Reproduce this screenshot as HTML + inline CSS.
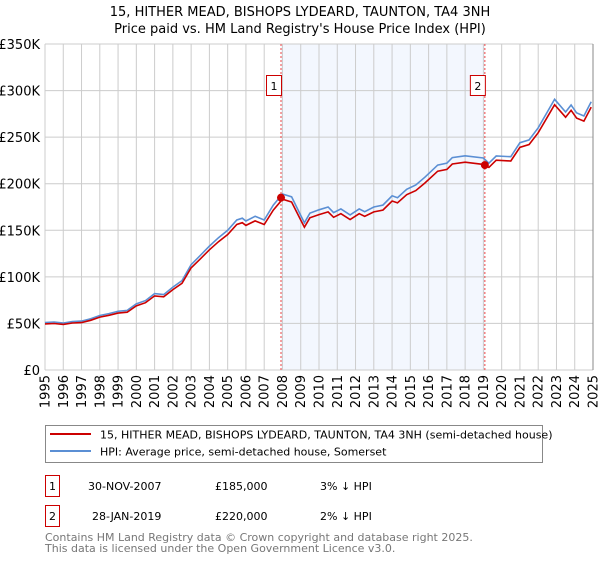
<!DOCTYPE html>
<html><head><meta charset="utf-8"><style>
body{margin:0;background:#fff;font-family:"DejaVu Sans","Liberation Sans",sans-serif;}
svg text{font-family:"DejaVu Sans","Liberation Sans",sans-serif;}
</style></head><body>
<svg id="c" width="600" height="560" xmlns="http://www.w3.org/2000/svg">
<text x="300" y="16" text-anchor="middle" font-size="13">15, HITHER MEAD, BISHOPS LYDEARD, TAUNTON, TA4 3NH</text>
<text x="300" y="33" text-anchor="middle" font-size="13">Price paid vs. HM Land Registry's House Price Index (HPI)</text>
<g id="plot"></g>
<g>
<rect x="45.5" y="425.5" width="497" height="37" fill="#fff" stroke="#888"/>
<line x1="50" y1="434" x2="91" y2="434" stroke="#cc0000" stroke-width="2"/>
<text x="100" y="438.5" font-size="11">15, HITHER MEAD, BISHOPS LYDEARD, TAUNTON, TA4 3NH (semi-detached house)</text>
<line x1="50" y1="451" x2="91" y2="451" stroke="#5b8fd4" stroke-width="2"/>
<text x="100" y="455.5" font-size="11">HPI: Average price, semi-detached house, Somerset</text>
</g>
<g font-size="11">
<rect x="45.5" y="475.5" width="14" height="21" fill="none" stroke="#cc0000"/>
<text x="52.5" y="490" text-anchor="middle">1</text>
<text x="88" y="490">30-NOV-2007</text><text x="215" y="490">£185,000</text><text x="320" y="490">3% ↓ HPI</text>
<rect x="45.5" y="505.5" width="14" height="21" fill="none" stroke="#cc0000"/>
<text x="52.5" y="520" text-anchor="middle">2</text>
<text x="92" y="520">28-JAN-2019</text><text x="215" y="520">£220,000</text><text x="320" y="520">2% ↓ HPI</text>
</g>
<text x="45" y="541" font-size="11" fill="#777">Contains HM Land Registry data © Crown copyright and database right 2025.</text>
<text x="45" y="552" font-size="11" fill="#777">This data is licensed under the Open Government Licence v3.0.</text>
</svg>
<script>
const hpiDates=[1995,1995.5,1996,1996.5,1997,1997.5,1998,1998.5,1999,1999.5,2000,2000.5,2001,2001.5,2002,2002.5,2003,2003.5,2004,2004.5,2005,2005.5,2005.8,2006,2006.5,2007,2007.5,2008,2008.5,2009,2009.2,2009.5,2010,2010.5,2010.8,2011.2,2011.7,2012.2,2012.5,2013,2013.5,2014,2014.3,2014.8,2015.3,2015.8,2016.5,2017,2017.3,2018,2019,2019.3,2019.7,2020.5,2021,2021.5,2022,2022.5,2022.9,2023.5,2023.8,2024.1,2024.5,2024.9];
const hpiValues=[51,51.5,50.5,52,52.5,55,58.5,60.5,63,64,71,74.5,82,81,89,96,113,123,133,142,150,161,163,160,165,161,177,189,186,166,158,168.5,172,175,169,173,166.5,173,170,175,177,187,185,194,198.6,207,220,222,228,230,227.6,222,229.8,229,244,247,260,277,290.6,277,284.5,276,272.7,288];
const saleDates=[2007.92,2019.08];
const salePrices=[185,220];
const priceRatios=[0.97,0.97,0.98];
const yTicks=[0,50,100,150,200,250,300,350];
const yTickLabels=["£0","£50K","£100K","£150K","£200K","£250K","£300K","£350K"];
const X0=45,X1=593,Y0=370,Y1=44;
const sx=t=>X0+(t-1995)*(X1-X0)/30;
const sy=v=>Y0-v*(Y0-Y1)/350;
const g=document.getElementById('plot');
const NS='http://www.w3.org/2000/svg';
function mk(tag,a,p){const e=document.createElementNS(NS,tag);for(const k in a)e.setAttribute(k,a[k]);(p||g).appendChild(e);return e;}
const sh=mk('rect',{x:sx(saleDates[0]),y:Y1,width:sx(saleDates[1])-sx(saleDates[0]),height:Y0-Y1,fill:'#eef3fd',opacity:0.7});


for(let yr=1995;yr<=2025;yr++){
 const l=mk('line',{x1:sx(yr),x2:sx(yr),y1:Y1,y2:Y0,stroke:'#cccccc'});
 
 
 const x=sx(yr)+4.5;
 const t=mk('text',{x:x,y:375,'font-size':13,'text-anchor':'end',transform:`rotate(-90 ${x} 375)`});
 t.textContent=yr;
 
 
}
yTicks.forEach((v,i)=>{
 const l=mk('line',{x1:X0,x2:X1,y1:sy(v),y2:sy(v),stroke:'#cccccc'});
 
 
 const t=mk('text',{x:40,y:sy(v)+5,'font-size':13,'text-anchor':'end'});
 t.textContent=yTickLabels[i];
 
 
});
const ax=mk('line',{x1:X1,x2:X1,y1:Y1,y2:Y0,stroke:'#888'});


saleDates.forEach((d,i)=>{
 const l=mk('line',{x1:sx(d),x2:sx(d),y1:Y1,y2:Y0,stroke:'#ee4444','stroke-dasharray':'2,2'});
 
 
 const r=mk('rect',{x:sx(d)-14.5,y:75.5,width:15,height:20,fill:'#fff',stroke:'#cc0000'});
 
 
 const t=mk('text',{x:sx(d)-7,y:90,'font-size':11,'text-anchor':'middle'});
 t.textContent=i+1;
 
 
});
const hp=hpiDates.map((d,i)=>sx(d).toFixed(1)+','+sy(hpiValues[i]).toFixed(1)).join(' ');
const b=mk('polyline',{points:hp,fill:'none',stroke:'#5b8fd4','stroke-width':1.6});


const rp=hpiDates.map((d,i)=>{const seg=d<saleDates[0]?0:(d<saleDates[1]?1:2);return sx(d).toFixed(1)+','+sy(hpiValues[i]*priceRatios[seg]).toFixed(1);}).join(' ');
const r=mk('polyline',{points:rp,fill:'none',stroke:'#cc0000','stroke-width':1.6});


saleDates.forEach((d,i)=>{
 const c=mk('circle',{cx:sx(d),cy:sy(salePrices[i]),r:4,fill:'#cc0000'});
 
 
});
</script>
</body></html>
